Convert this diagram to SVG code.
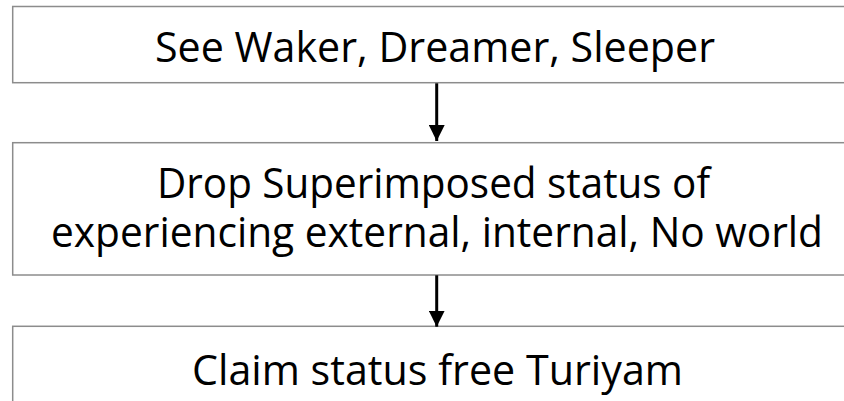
<svg xmlns="http://www.w3.org/2000/svg" width="844" height="401" viewBox="0 0 844 401">
  <style>
    .box { fill: #ffffff; stroke: #8c8c8c; stroke-width: 1.5; }
    .label { font-family: "Open Sans", "Noto Sans", sans-serif; font-size: 42px; fill: #000000; text-anchor: middle; }
    .link { stroke: #000000; stroke-width: 3; fill: none; }
  </style>
  <defs>
    <marker id="arrow" markerUnits="userSpaceOnUse" markerWidth="16" markerHeight="16" refX="16" refY="8" orient="auto">
      <path d="M0,0 L16,8 L0,16 Z" fill="#000000"/>
    </marker>
  </defs>
  <rect width="844" height="401" fill="#ffffff"/>
  <g id="node-see">
    <rect class="box" x="12.7" y="6.5" width="840" height="76.2"/>
    <text class="label" x="435" y="61.5" textLength="560" lengthAdjust="spacingAndGlyphs">See Waker, Dreamer, Sleeper</text>
  </g>
  <g id="node-drop">
    <rect class="box" x="12.7" y="142.7" width="840" height="132.3"/>
    <text class="label" x="433.5" y="197.5" textLength="553" lengthAdjust="spacingAndGlyphs">Drop Superimposed status of</text>
    <text class="label" x="437" y="246.5" textLength="772" lengthAdjust="spacingAndGlyphs">experiencing external, internal, No world</text>
  </g>
  <g id="node-claim">
    <rect class="box" x="12.7" y="326.3" width="840" height="90"/>
    <text class="label" x="437.5" y="385" textLength="491" lengthAdjust="spacingAndGlyphs">Claim status free Turiyam</text>
  </g>
  <g id="connectors">
    <line class="link" x1="436.7" y1="83.3" x2="436.7" y2="141" marker-end="url(#arrow)"/>
    <line class="link" x1="436.7" y1="275.3" x2="436.7" y2="326.7" marker-end="url(#arrow)"/>
  </g>
</svg>
